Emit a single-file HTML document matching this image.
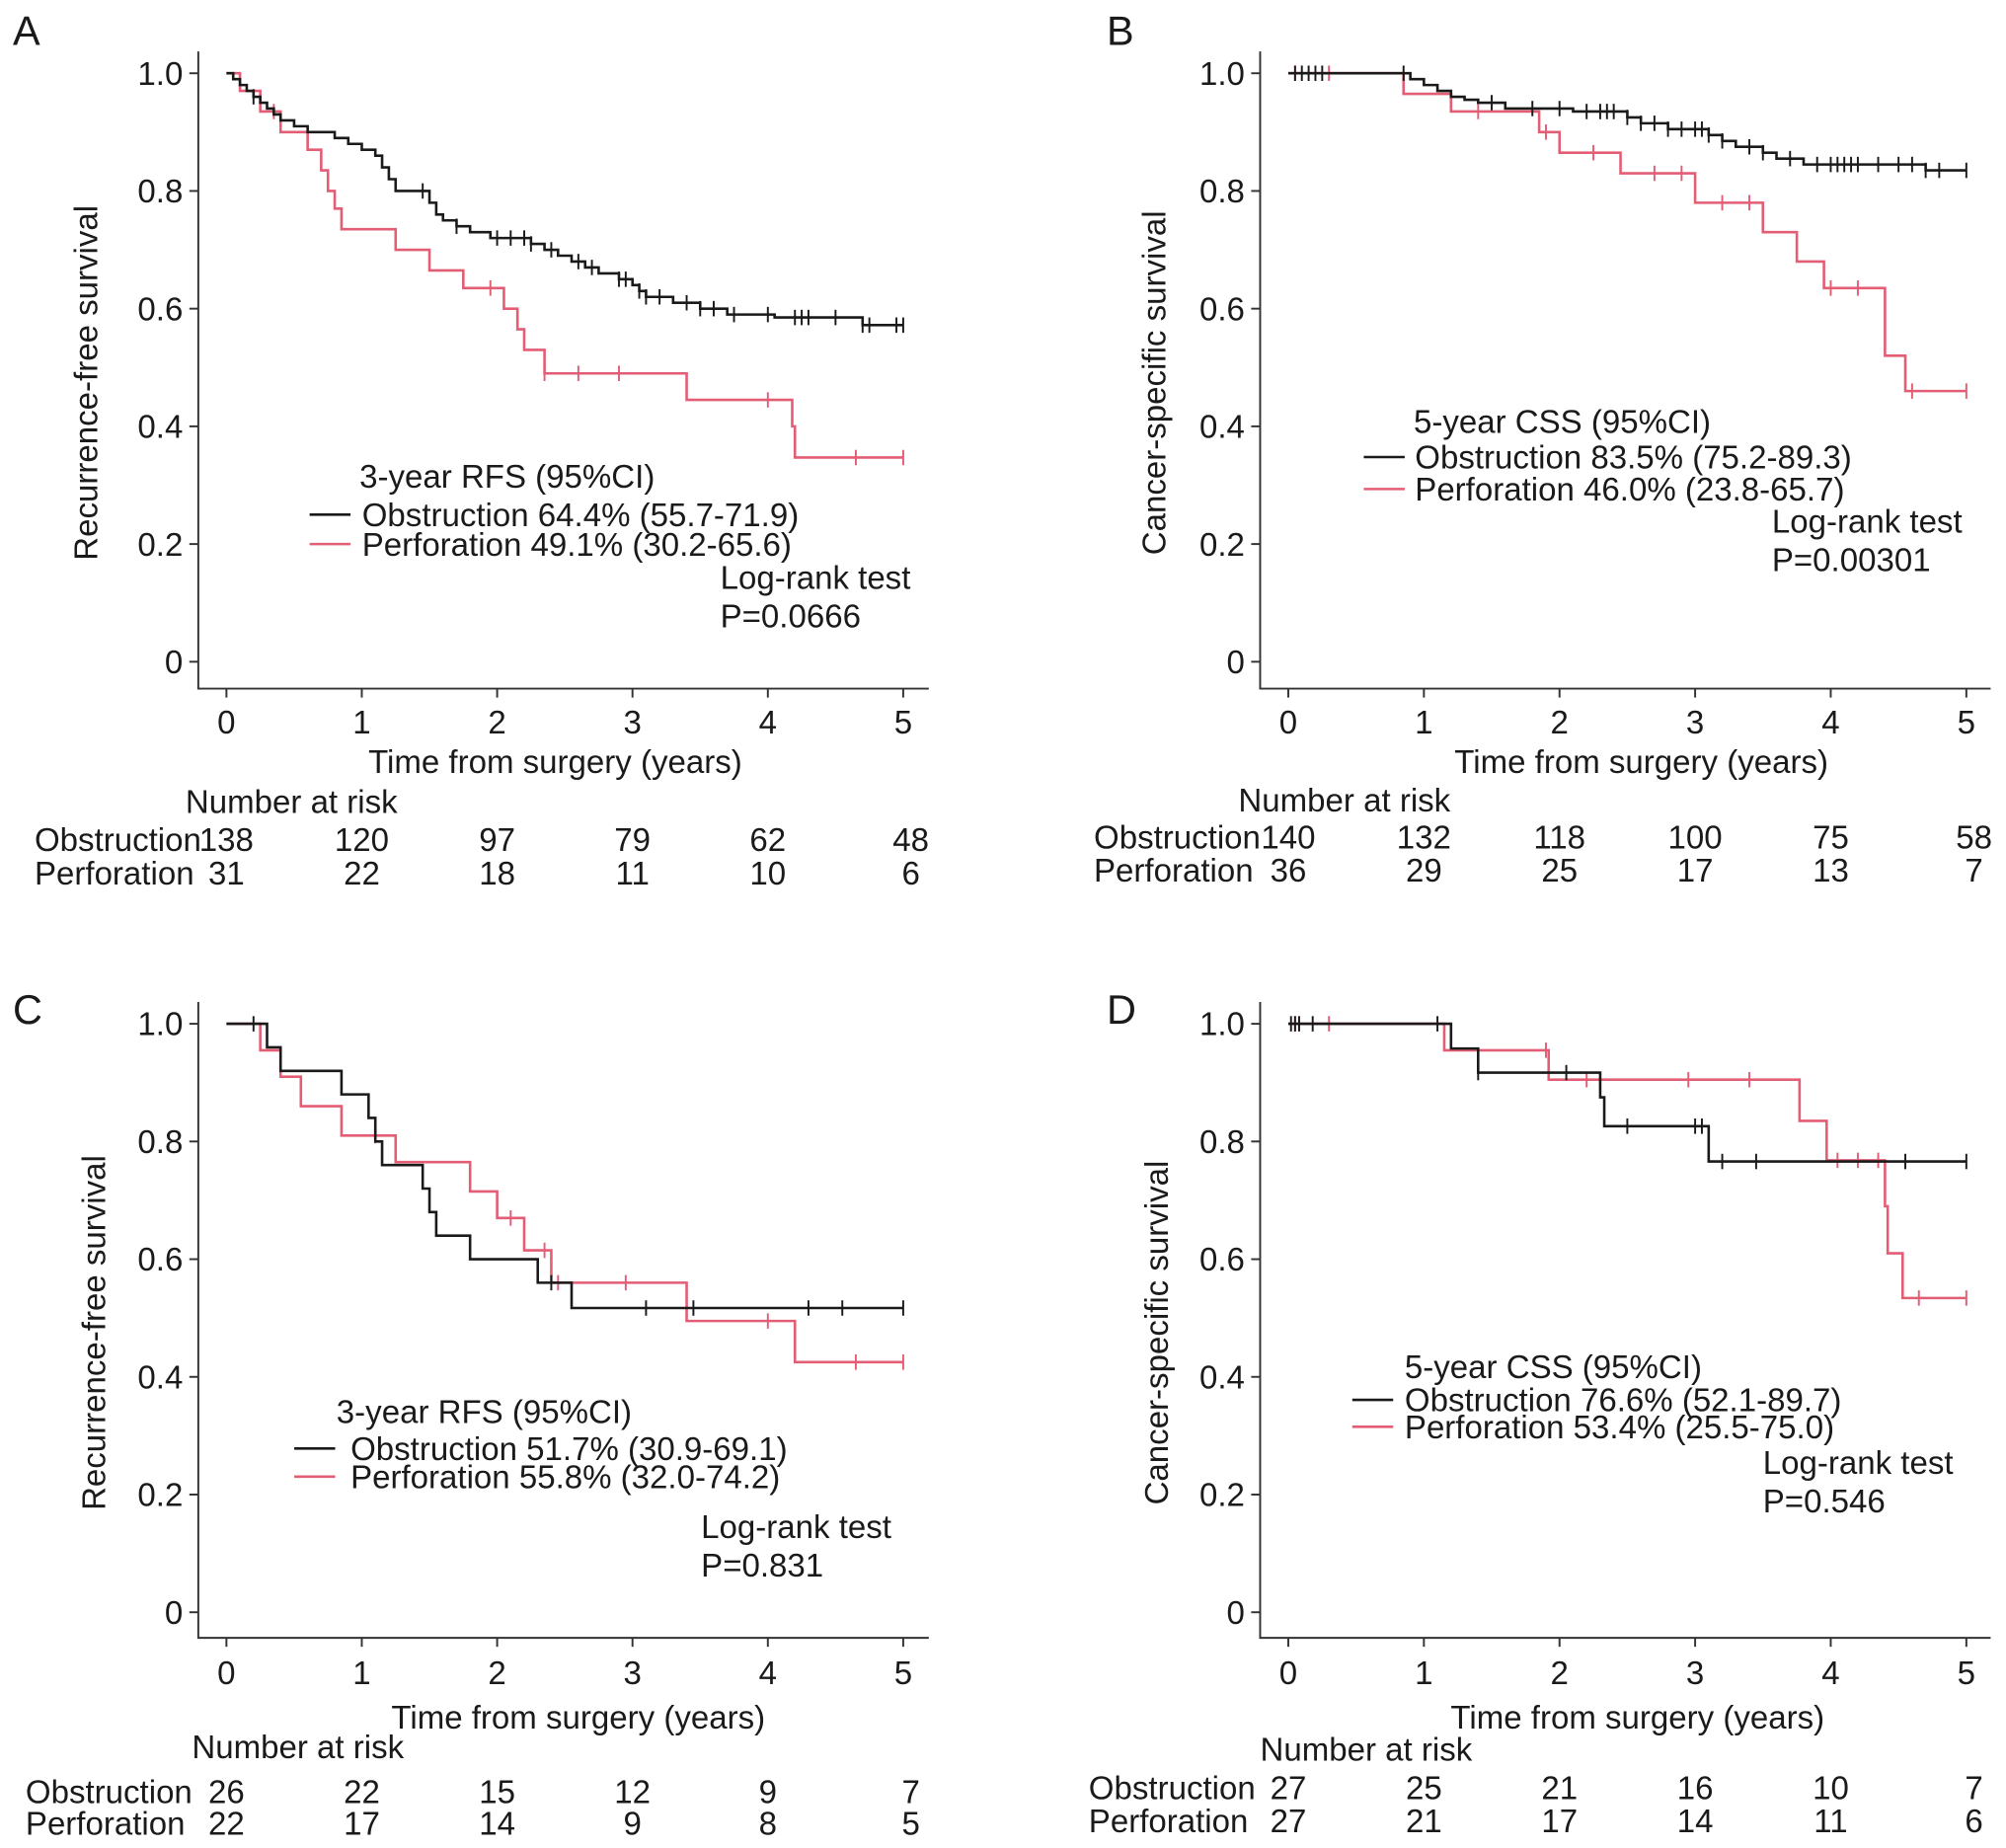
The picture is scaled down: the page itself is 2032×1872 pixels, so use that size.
<!DOCTYPE html>
<html><head><meta charset="utf-8"><style>
html,body{margin:0;padding:0;background:#fff}
svg{display:block}
text{font-family:"Liberation Sans",Arial,sans-serif;fill:#1a1a1a}
</style></head><body>
<svg id="fig" width="2032" height="1872" viewBox="0 0 1568 1444" xmlns="http://www.w3.org/2000/svg"></svg>
<script>
const xTickLabels=["0","1","2","3","4","5"];
const yTickValues=[0,0.2,0.4,0.6,0.8,1.0];
const yTickLabels=["0","0.2","0.4","0.6","0.8","1.0"];

const aObsT=[0,0.05,0.1,0.15,0.2,0.25,0.3,0.35,0.4,0.5,0.6,0.8,0.9,1.0,1.1,1.15,1.2,1.25,1.5,1.55,1.6,1.7,1.8,1.95,2.25,2.35,2.45,2.55,2.65,2.75,2.9,3.0,3.05,3.1,3.3,3.5,3.7,4.05,4.7];
const aObsS=[1,0.99,0.98,0.97,0.96,0.95,0.94,0.93,0.92,0.91,0.90,0.89,0.88,0.87,0.86,0.84,0.82,0.80,0.78,0.76,0.75,0.74,0.73,0.72,0.71,0.70,0.69,0.68,0.67,0.66,0.65,0.64,0.63,0.62,0.61,0.60,0.59,0.585,0.572];
const aObsCens=[0.2,1.45,1.7,2.0,2.1,2.2,2.25,2.4,2.6,2.7,2.9,2.95,3.05,3.1,3.2,3.4,3.5,3.6,3.75,4.0,4.2,4.25,4.3,4.5,4.7,4.75,4.95,5.0];
const aPerT=[0,0.1,0.25,0.4,0.6,0.7,0.75,0.8,0.85,1.25,1.5,1.75,2.05,2.15,2.2,2.35,3.4,4.18,4.2];
const aPerS=[1,0.97,0.935,0.90,0.87,0.835,0.80,0.77,0.735,0.70,0.665,0.635,0.60,0.565,0.53,0.49,0.445,0.40,0.347];
const aPerCens=[0.35,1.95,2.35,2.6,2.9,4.0,4.65,5.0];

const bObsT=[0,0.9,1.0,1.1,1.2,1.3,1.4,1.6,2.1,2.5,2.6,2.8,3.1,3.2,3.3,3.5,3.6,3.8,4.7];
const bObsS=[1,0.99,0.98,0.97,0.96,0.955,0.95,0.94,0.935,0.925,0.915,0.905,0.895,0.885,0.875,0.865,0.855,0.845,0.835];
const bObsCens=[0.05,0.1,0.15,0.2,0.25,0.85,1.5,1.8,2.0,2.2,2.3,2.35,2.4,2.5,2.6,2.7,2.8,2.9,3.0,3.05,3.1,3.2,3.4,3.5,3.7,3.9,4.0,4.05,4.1,4.15,4.2,4.35,4.5,4.6,4.7,4.8,5.0];
const bPerT=[0,0.85,1.2,1.85,2.0,2.45,3.0,3.5,3.75,3.95,4.4,4.55];
const bPerS=[1,0.965,0.935,0.90,0.865,0.83,0.78,0.73,0.68,0.635,0.52,0.46];
const bPerCens=[0.05,0.3,1.4,1.9,2.25,2.7,2.9,3.2,3.4,4.0,4.2,4.6,5.0];

const cObsT=[0,0.3,0.4,0.85,1.05,1.1,1.15,1.45,1.5,1.55,1.8,2.3,2.55];
const cObsS=[1,0.96,0.92,0.88,0.84,0.80,0.76,0.72,0.68,0.64,0.60,0.56,0.517];
const cObsCens=[0.2,2.4,3.1,3.45,4.3,4.55,5.0];
const cPerT=[0,0.25,0.4,0.55,0.85,1.25,1.8,2.0,2.2,2.4,3.4,4.2];
const cPerS=[1,0.955,0.91,0.86,0.81,0.765,0.715,0.67,0.615,0.56,0.495,0.425];
const cPerCens=[1.1,2.1,2.35,2.45,2.95,4.0,4.65,5.0];

const dObsT=[0,1.2,1.4,2.3,2.33,3.1];
const dObsS=[1,0.958,0.917,0.875,0.826,0.766];
const dObsCens=[0.02,0.05,0.08,0.18,1.1,1.4,2.05,2.5,3.0,3.05,3.2,3.45,4.55,5.0];
const dPerT=[0,1.15,1.92,3.77,3.97,4.4,4.42,4.53];
const dPerS=[1,0.955,0.905,0.835,0.768,0.69,0.61,0.534];
const dPerCens=[0.05,0.3,1.9,2.2,2.95,3.4,4.05,4.2,4.35,4.65,5.0];

const riskA=[["138","120","97","79","62","48"],["31","22","18","11","10","6"]];
const riskB=[["140","132","118","100","75","58"],["36","29","25","17","13","7"]];
const riskC=[["26","22","15","12","9","7"],["22","17","14","9","8","5"]];
const riskD=[["27","25","21","16","10","7"],["27","21","17","14","11","6"]];

const RED="#e35d75";
const FS=25.5;
const NS="http://www.w3.org/2000/svg";
const svg=document.getElementById('fig');
function mk(tag,attrs,parent,txt){const e=document.createElementNS(NS,tag);for(const k in attrs)e.setAttribute(k,attrs[k]);if(txt!==undefined)e.textContent=txt;(parent||svg).appendChild(e);return e;}

const panels=[
 {id:'a',letter:'A',lx:10,ly:35,axL:155,axT:40,axB:538,axR:726,x0:177,x5:706,y1:57,y0:517,ylab:"Recurrence-free survival",ylx:76,xtY:573,xtitY:604,xtitX:434,
  nrX:145,nrY:635,r1:665,r2:691,labX:27,
  legT:"3-year RFS (95%CI)",legTX:281,legTY:381,legLX:242,legL1:402,legL2:425,legTxX:283,
  leg1:"Obstruction 64.4% (55.7-71.9)",leg2:"Perforation 49.1% (30.2-65.6)",lrX:563,lrY:460,p:"P=0.0666",
  obsT:aObsT,obsS:aObsS,obsC:aObsCens,perT:aPerT,perS:aPerS,perC:aPerCens,risk:riskA},
 {id:'b',letter:'B',lx:865,ly:35,axL:985,axT:40,axB:538,axR:1556,x0:1007,x5:1537,y1:57,y0:517,ylab:"Cancer-specific survival",ylx:911,xtY:573,xtitY:604,xtitX:1283,
  nrX:968,nrY:634,r1:663,r2:689,labX:855,
  legT:"5-year CSS (95%CI)",legTX:1105,legTY:338,legLX:1066,legL1:357,legL2:382,legTxX:1106,
  leg1:"Obstruction 83.5% (75.2-89.3)",leg2:"Perforation 46.0% (23.8-65.7)",lrX:1385,lrY:416,p:"P=0.00301",
  obsT:bObsT,obsS:bObsS,obsC:bObsCens,perT:bPerT,perS:bPerS,perC:bPerCens,risk:riskB},
 {id:'c',letter:'C',lx:10,ly:800,axL:155,axT:783,axB:1280,axR:726,x0:177,x5:706,y1:800,y0:1260,ylab:"Recurrence-free survival",ylx:82,xtY:1316,xtitY:1351,xtitX:452,
  nrX:150,nrY:1374,r1:1409,r2:1434,labX:20,
  legT:"3-year RFS (95%CI)",legTX:263,legTY:1112,legLX:230,legL1:1132,legL2:1154,legTxX:274,
  leg1:"Obstruction 51.7% (30.9-69.1)",leg2:"Perforation 55.8% (32.0-74.2)",lrX:548,lrY:1202,p:"P=0.831",
  obsT:cObsT,obsS:cObsS,obsC:cObsCens,perT:cPerT,perS:cPerS,perC:cPerCens,risk:riskC},
 {id:'d',letter:'D',lx:865,ly:800,axL:985,axT:783,axB:1280,axR:1556,x0:1007,x5:1537,y1:800,y0:1260,ylab:"Cancer-specific survival",ylx:913,xtY:1316,xtitY:1351,xtitX:1280,
  nrX:985,nrY:1376,r1:1406,r2:1432,labX:851,
  legT:"5-year CSS (95%CI)",legTX:1098,legTY:1077,legLX:1057,legL1:1094,legL2:1115,legTxX:1098,
  leg1:"Obstruction 76.6% (52.1-89.7)",leg2:"Perforation 53.4% (25.5-75.0)",lrX:1378,lrY:1152,p:"P=0.546",
  obsT:dObsT,obsS:dObsS,obsC:dObsCens,perT:dPerT,perS:dPerS,perC:dPerCens,risk:riskD}
];

function stepPath(T,S,X,Y){let d='M'+X(T[0])+','+Y(S[0]);for(let i=1;i<T.length;i++){d+=' H'+X(T[i])+' V'+Y(S[i]);}d+=' H'+X(5);return d;}
function survAt(T,S,t){let s=S[0];for(let i=0;i<T.length;i++){if(T[i]<=t)s=S[i];}return s;}

panels.forEach(p=>{
  const g=mk('g',{});
  
  
  const X=t=>p.x0+(p.x5-p.x0)*t/5;
  const Y=s=>p.y0+(p.y1-p.y0)*s;
  const lt=mk('text',{x:p.lx,y:p.ly,'font-size':32},g,p.letter);
  
  
  const ax=mk('path',{d:`M${p.axL},${p.axT} V${p.axB} H${p.axR}`,stroke:'#333',fill:'none','stroke-width':1.5},g);
  
  
  yTickValues.forEach((v,i)=>{
    mk('line',{x1:p.axL-7,x2:p.axL,y1:Y(v),y2:Y(v),stroke:'#333','stroke-width':1.5},g);
    const t=mk('text',{x:p.axL-12,y:Y(v)+9,'font-size':FS,'text-anchor':'end'},g,yTickLabels[i]);
    
    
  });
  xTickLabels.forEach((l,i)=>{
    mk('line',{x1:X(i),x2:X(i),y1:p.axB,y2:p.axB+7,stroke:'#333','stroke-width':1.5},g);
    const t=mk('text',{x:X(i),y:p.xtY,'font-size':FS,'text-anchor':'middle'},g,l);
    
    
  });
  const yl=mk('text',{x:0,y:0,'font-size':FS,'text-anchor':'middle',transform:`translate(${p.ylx},${(p.axT+p.axB)/2+10}) rotate(-90)`},g,p.ylab);
  
  
  const xl=mk('text',{x:p.xtitX,y:p.xtitY,'font-size':FS,'text-anchor':'middle'},g,"Time from surgery (years)");
  
  
  [[p.perT,p.perS,p.perC,RED,'perforation'],[p.obsT,p.obsS,p.obsC,'#1a1a1a','obstruction']].forEach(([T,S,C,col,nm])=>{
    const path=mk('path',{d:stepPath(T,S,X,Y),stroke:col,fill:'none','stroke-width':2},g);
    
    
    C.forEach(t=>{
      const y=Y(survAt(T,S,t));
      const c=mk('line',{x1:X(t),x2:X(t),y1:y-6,y2:y+6,stroke:col,'stroke-width':1.5},g);
      
      
    });
  });
  const lg=mk('g',{},g);
  
  
  mk('text',{x:p.legTX,y:p.legTY,'font-size':FS},lg,p.legT);
  mk('line',{x1:p.legLX,x2:p.legLX+32,y1:p.legL1,y2:p.legL1,stroke:'#1a1a1a','stroke-width':2},lg);
  mk('line',{x1:p.legLX,x2:p.legLX+32,y1:p.legL2,y2:p.legL2,stroke:RED,'stroke-width':2},lg);
  mk('text',{x:p.legTxX,y:p.legL1+9,'font-size':FS},lg,p.leg1);
  mk('text',{x:p.legTxX,y:p.legL2+9,'font-size':FS},lg,p.leg2);
  const lr=mk('text',{x:p.lrX,y:p.lrY,'font-size':FS},g,"Log-rank test");
  
  
  const pv=mk('text',{x:p.lrX,y:p.lrY+30,'font-size':FS},g,p.p);
  
  
  const rt=mk('g',{},g);
  
  
  mk('text',{x:p.nrX,y:p.nrY,'font-size':FS},rt,"Number at risk");
  mk('text',{x:p.labX,y:p.r1,'font-size':FS},rt,"Obstruction");
  mk('text',{x:p.labX,y:p.r2,'font-size':FS},rt,"Perforation");
  p.risk.forEach((row,ri)=>row.forEach((v,i)=>{
    mk('text',{x:X(i)+(i===5?6:0),y:(ri?p.r2:p.r1),'font-size':FS,'text-anchor':'middle'},rt,v);
  }));
});
</script>
</body></html>
